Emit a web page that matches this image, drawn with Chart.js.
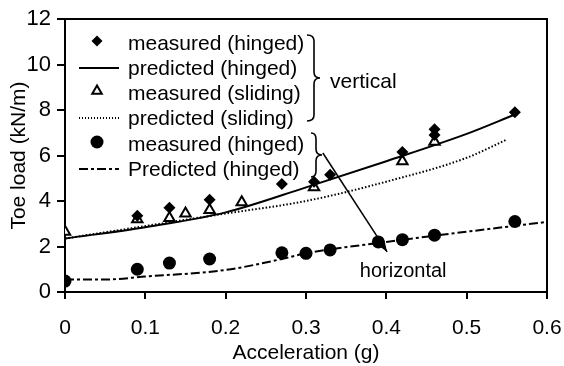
<!DOCTYPE html>
<html>
<head>
<meta charset="utf-8">
<script src="https://cdn.jsdelivr.net/npm/chart.js@4/dist/chart.umd.min.js"></script>
<style>
  html, body { margin: 0; padding: 0; background: #fff; }
  #wrap { width: 564px; height: 366px; }
</style>
</head>
<body>
<div id="wrap"><canvas id="toe-chart" width="564" height="366"></canvas></div>
<script>
// measured, vertical, hinged toe (diamonds)
const accelHingedV = [0.09, 0.13, 0.18, 0.27, 0.31, 0.33, 0.42, 0.46, 0.46, 0.56];
const loadHingedV = [3.35, 3.7, 4.05, 4.75, 4.85, 5.15, 6.15, 7.15, 6.9, 7.9];

// measured, vertical, sliding toe (open triangles)
const accelSlidingV = [0, 0.09, 0.13, 0.15, 0.18, 0.22, 0.31, 0.42, 0.46];
const loadSlidingV = [2.65, 3.2, 3.25, 3.45, 3.6, 3.95, 4.6, 5.75, 6.6];

// measured, horizontal, hinged toe (circles)
const accelHingedH = [0, 0.09, 0.13, 0.18, 0.27, 0.30, 0.33, 0.39, 0.42, 0.46, 0.56];
const loadHingedH = [0.48, 1.0, 1.27, 1.45, 1.72, 1.7, 1.85, 2.2, 2.3, 2.5, 3.1];

// predictions
const accelPredHingedV = [0, 0.1, 0.2, 0.3, 0.4, 0.5, 0.56];
const loadPredHingedV = [2.35, 2.85, 3.5, 4.6, 5.75, 6.95, 7.8];
const accelPredSlidingV = [0, 0.1, 0.2, 0.3, 0.4, 0.5, 0.55];
const loadPredSlidingV = [2.35, 2.9, 3.45, 4.0, 4.85, 5.9, 6.7];
const accelPredHingedH = [0, 0.05, 0.1, 0.2, 0.27, 0.3, 0.4, 0.5, 0.6];
const loadPredHingedH = [0.55, 0.55, 0.68, 0.97, 1.45, 1.7, 2.2, 2.65, 3.08];

const legendLabels = [
  'measured (hinged)',
  'predicted (hinged)',
  'measured (sliding)',
  'predicted (sliding)',
  'measured (hinged)',
  'Predicted (hinged)'
];

const FONT = '"Liberation Sans", Arial, sans-serif';

function pairs(xs, ys) {
  return xs.map((x, i) => ({x: x, y: ys[i]}));
}

// frame, legend, braces, arrow and the two group labels
const annotations = {
  id: 'annotations',
  afterDraw(chart) {
    const ctx = chart.ctx;
    const area = chart.chartArea;
    const xs = chart.scales.x;
    const ys = chart.scales.y;
    ctx.save();
    ctx.strokeStyle = '#000';
    ctx.fillStyle = '#000';

    // top + right border of the plot box
    ctx.lineWidth = 2;
    ctx.beginPath();
    ctx.moveTo(area.left, area.top);
    ctx.lineTo(area.right, area.top);
    ctx.lineTo(area.right, area.bottom);
    ctx.stroke();

    // legend
    const rowY = [24, 49, 74, 99, 125, 150];
    const markX = area.left + 32;
    const textX = area.left + 63;
    ctx.font = '21px ' + FONT;
    ctx.textBaseline = 'middle';
    ctx.textAlign = 'left';
    legendLabels.forEach((label, i) => {
      const y = area.top + rowY[i];
      ctx.fillStyle = '#000';
      ctx.fillText(label, textX, y + 1);
      ctx.setLineDash([]);
      ctx.lineWidth = 2;
      if (i === 0) {
        ctx.fillStyle = '#000';
        Chart.helpers.drawPoint(ctx, {pointStyle: 'rectRot', radius: 5.5, borderWidth: 0}, markX, y - 2);
      } else if (i === 2) {
        ctx.fillStyle = '#fff';
        Chart.helpers.drawPoint(ctx, {pointStyle: 'triangle', radius: 5.5, borderWidth: 2}, markX, y - 2);
      } else if (i === 4) {
        ctx.fillStyle = '#000';
        Chart.helpers.drawPoint(ctx, {pointStyle: 'circle', radius: 6.5, borderWidth: 0}, markX, y - 2);
      } else {
        if (i === 3) { ctx.setLineDash([1, 2]); ctx.lineWidth = 2; }
        if (i === 5) { ctx.setLineDash([9, 3, 3, 3]); }
        ctx.beginPath();
        ctx.moveTo(area.left + 14, y);
        ctx.lineTo(area.left + 54, y);
        ctx.stroke();
      }
    });
    ctx.setLineDash([]);

    // braces
    function brace(x, top, bottom, w) {
      const mid = (top + bottom) / 2;
      ctx.lineWidth = 1.6;
      ctx.beginPath();
      ctx.moveTo(x, top);
      ctx.quadraticCurveTo(x + w, top, x + w, top + 6);
      ctx.lineTo(x + w, mid - 6);
      ctx.quadraticCurveTo(x + w, mid, x + w + 6, mid);
      ctx.quadraticCurveTo(x + w, mid, x + w, mid + 6);
      ctx.lineTo(x + w, bottom - 6);
      ctx.quadraticCurveTo(x + w, bottom, x, bottom);
      ctx.stroke();
    }
    brace(area.left + 242, area.top + 16, area.top + 102, 7);
    brace(area.left + 246, area.top + 114, area.top + 158, 5);

    // group labels
    ctx.fillStyle = '#000';
    ctx.font = '21px ' + FONT;
    ctx.textAlign = 'left';
    ctx.fillText('vertical', xs.getPixelForValue(0.33), ys.getPixelForValue(9.2));
    ctx.font = '20px ' + FONT;
    ctx.textAlign = 'center';
    ctx.fillText('horizontal', xs.getPixelForValue(0.421), ys.getPixelForValue(0.88));

    // arrow to the horizontal curves
    const x0 = xs.getPixelForValue(0.321), y0 = ys.getPixelForValue(6.11);
    const x1 = xs.getPixelForValue(0.401), y1 = ys.getPixelForValue(1.76);
    ctx.lineWidth = 1.5;
    ctx.beginPath();
    ctx.moveTo(x0, y0);
    ctx.lineTo(x1, y1);
    ctx.stroke();
    const ang = Math.atan2(y1 - y0, x1 - x0);
    const len = 12;
    ctx.beginPath();
    ctx.moveTo(x1, y1);
    ctx.lineTo(x1 - len * Math.cos(ang - 0.35), y1 - len * Math.sin(ang - 0.35));
    ctx.lineTo(x1 - len * Math.cos(ang + 0.35), y1 - len * Math.sin(ang + 0.35));
    ctx.closePath();
    ctx.fill();

    ctx.restore();
  }
};

const lineBase = {
  showLine: true,
  pointRadius: 0,
  borderColor: '#000',
  backgroundColor: '#000',
  borderWidth: 2,
  cubicInterpolationMode: 'monotone',
  fill: false
};

const ctx = document.getElementById('toe-chart');
new Chart(ctx, {
  type: 'scatter',
  data: {
    datasets: [
      {
        label: 'measured (hinged) vertical',
        data: pairs(accelHingedV, loadHingedV),
        pointStyle: 'rectRot',
        pointRadius: 6,
        backgroundColor: '#000',
        borderColor: '#000',
        borderWidth: 0
      },
      {
        label: 'measured (sliding) vertical',
        data: pairs(accelSlidingV, loadSlidingV),
        pointStyle: 'triangle',
        pointRadius: 6,
        backgroundColor: '#fff',
        borderColor: '#000',
        borderWidth: 2
      },
      {
        label: 'measured (hinged) horizontal',
        data: pairs(accelHingedH, loadHingedH),
        pointStyle: 'circle',
        pointRadius: 6.5,
        backgroundColor: '#000',
        borderColor: '#000',
        borderWidth: 0
      },
      Object.assign({}, lineBase, {
        label: 'predicted (hinged) vertical',
        data: pairs(accelPredHingedV, loadPredHingedV)
      }),
      Object.assign({}, lineBase, {
        label: 'predicted (sliding) vertical',
        data: pairs(accelPredSlidingV, loadPredSlidingV),
        borderDash: [1.5, 2]
      }),
      Object.assign({}, lineBase, {
        label: 'Predicted (hinged) horizontal',
        data: pairs(accelPredHingedH, loadPredHingedH),
        borderDash: [9, 3, 3, 3]
      })
    ]
  },
  options: {
    responsive: false,
    animation: false,
    devicePixelRatio: 1,
    layout: {padding: {top: 19, right: 17, left: 0, bottom: 0}},
    plugins: {
      legend: {display: false},
      tooltip: {enabled: false}
    },
    scales: {
      x: {
        type: 'linear',
        min: 0,
        max: 0.6,
        afterFit: s => { s.height = 74; s.paddingLeft = 0; s.paddingRight = 0; },
        ticks: {stepSize: 0.1, color: '#000', padding: 17, font: {family: FONT, size: 21}},
        grid: {drawOnChartArea: false, drawTicks: true, tickLength: 7, color: '#000', lineWidth: 2},
        border: {display: true, color: '#000', width: 2},
        title: {display: true, text: 'Acceleration (g)', color: '#000', padding: {top: 0, bottom: 0}, font: {family: FONT, size: 21}}
      },
      y: {
        type: 'linear',
        min: 0,
        max: 12,
        afterFit: s => { s.width = 65; s.paddingTop = 0; s.paddingBottom = 0; },
        ticks: {stepSize: 2, color: '#000', padding: 6, font: {family: FONT, size: 22}},
        grid: {drawOnChartArea: false, drawTicks: true, tickLength: 8, color: '#000', lineWidth: 2},
        border: {display: true, color: '#000', width: 2},
        title: {display: true, text: 'Toe load (kN/m)', color: '#000', padding: {top: 7, bottom: 0}, font: {family: FONT, size: 21}}
      }
    }
  },
  plugins: [annotations]
});
</script>
</body>
</html>
